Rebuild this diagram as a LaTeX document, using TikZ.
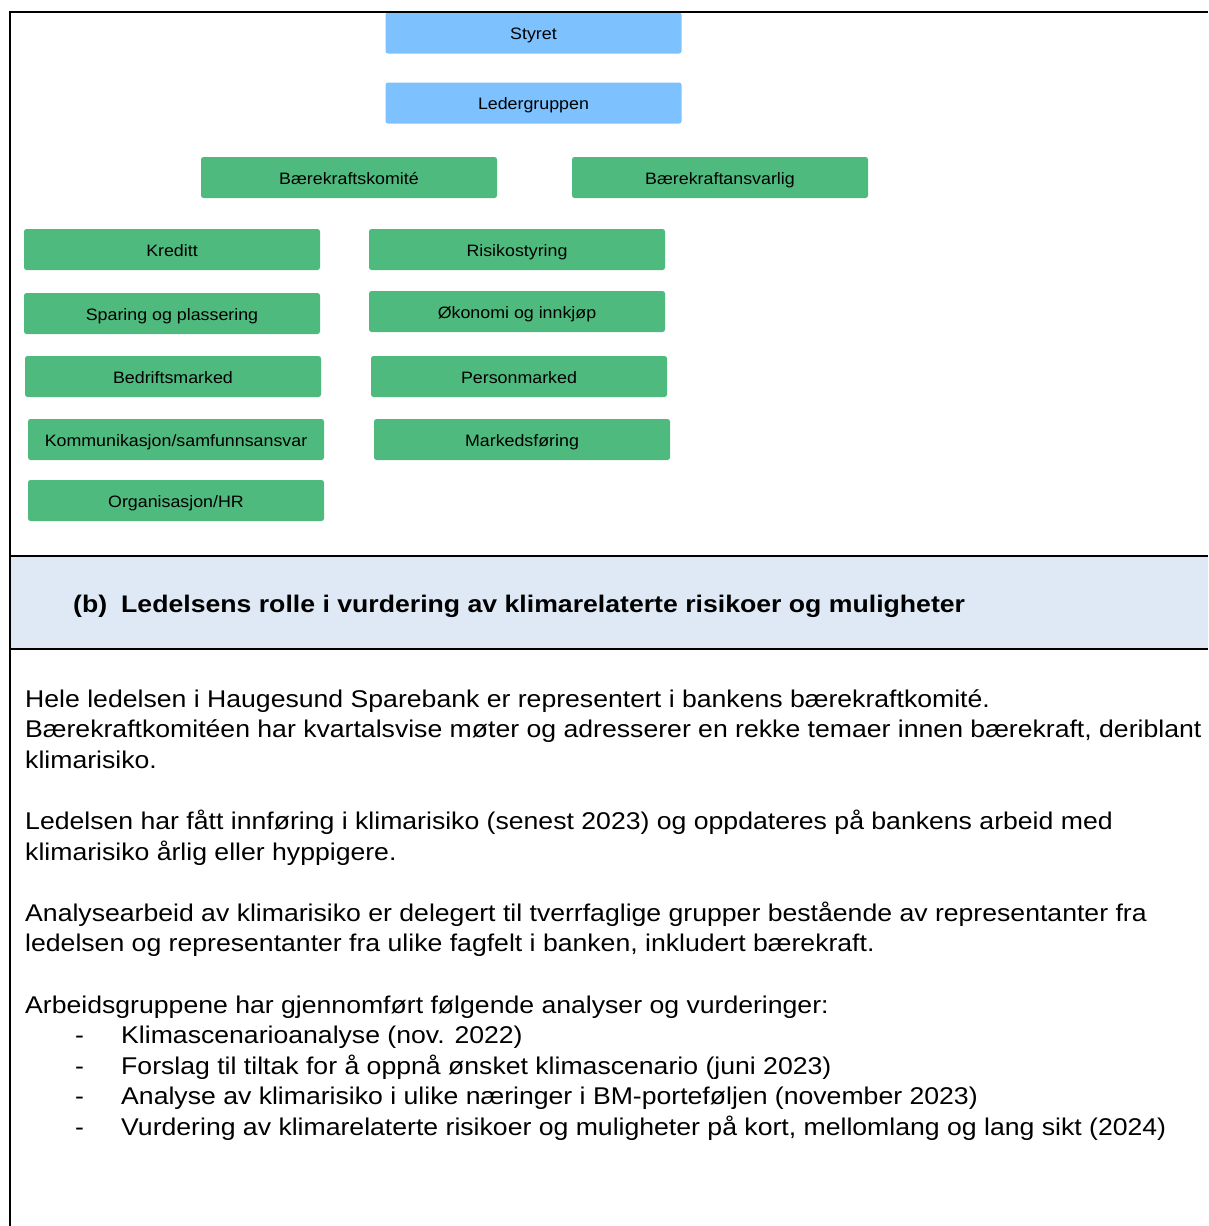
\documentclass[tikz,border=0pt]{standalone}
\usepackage{fontspec}
\setmainfont{Liberation Sans}
\newfontfamily\bodyfont[FakeStretch=1.10]{Liberation Sans}
\newfontfamily\headfont[FakeStretch=1.11]{Liberation Sans}
\newfontfamily\boxfont[FakeStretch=1.08]{Liberation Sans}
\definecolor{boxblue}{RGB}{125,193,255}
\definecolor{boxgreen}{RGB}{79,186,126}
\definecolor{headfill}{RGB}{222,233,245}
\tikzset{
  orgbox/.style={rectangle, rounded corners=2.5pt, inner sep=0pt, minimum width=296pt, minimum height=41pt, text height=15pt, text depth=2pt, font=\boxfont\fontsize{16.5}{19}\selectfont, text=black},
  bluebox/.style={orgbox, fill=boxblue},
  greenbox/.style={orgbox, fill=boxgreen},
  bodytext/.style={anchor=base west, inner sep=0pt, font=\bodyfont\fontsize{24.2}{28}\selectfont},
  headtext/.style={anchor=base west, inner sep=0pt, font=\headfont\fontsize{24}{28}\selectfont\bfseries},
  rule/.style={line width=2pt, black}
}
\begin{document}
\begin{tikzpicture}[x=1pt,y=-1pt]
\useasboundingbox (0,0) rectangle (1208,1226);
% header band
\fill[headfill] (10,556) rectangle (1208,649);
% org chart boxes
\node[bluebox] (styret) at (533.5,33) {Styret};
\node[bluebox] (leder) at (533.5,103) {Ledergruppen};
\node[greenbox] (komite) at (349,177.5) {Bærekraftskomité};
\node[greenbox] (ansvarlig) at (720,177.5) {Bærekraftansvarlig};
\node[greenbox] (kreditt) at (172,249.5) {Kreditt};
\node[greenbox] (risiko) at (517,249.5) {Risikostyring};
\node[greenbox] (sparing) at (172,313.5) {Sparing og plassering};
\node[greenbox] (okonomi) at (517,311.5) {Økonomi og innkjøp};
\node[greenbox] (bedrift) at (173,376.5) {Bedriftsmarked};
\node[greenbox] (person) at (519,376.5) {Personmarked};
\node[greenbox] (kommunikasjon) at (176,439.5) {Kommunikasjon/samfunnsansvar};
\node[greenbox] (markedsforing) at (522,439.5) {Markedsføring};
\node[greenbox] (org) at (176,500.5) {Organisasjon/HR};
% table rules
\draw[rule] (10,1226) -- (10,12) -- (1208,12);
\draw[rule] (10,556) -- (1208,556);
\draw[rule] (10,649) -- (1208,649);
% header
\node[headtext] (hb) at (73,612) {(b)};
\node[headtext] (ht) at (121,612) {Ledelsens rolle i vurdering av klimarelaterte risikoer og muligheter};
% body
\node[bodytext] (l1) at (25,707) {Hele ledelsen i Haugesund Sparebank er representert i bankens bærekraftkomité.};
\node[bodytext] (l2) at (25,737.6) {Bærekraftkomitéen har kvartalsvise møter og adresserer en rekke temaer innen bærekraft, deriblant};
\node[bodytext] (l3) at (25,768.2) {klimarisiko.};
\node[bodytext] (l4) at (25,829.4) {Ledelsen har fått innføring i klimarisiko (senest 2023) og oppdateres på bankens arbeid med};
\node[bodytext] (l5) at (25,860) {klimarisiko årlig eller hyppigere.};
\node[bodytext] (l6) at (25,921.2) {Analysearbeid av klimarisiko er delegert til tverrfaglige grupper bestående av representanter fra};
\node[bodytext] (l7) at (25,951.8) {ledelsen og representanter fra ulike fagfelt i banken, inkludert bærekraft.};
\node[bodytext] (l8) at (25,1013) {Arbeidsgruppene har gjennomført følgende analyser og vurderinger:};
\node[bodytext] (d1) at (75,1043.6) {-};
\node[bodytext] (i1) at (121,1043.6) {Klimascenarioanalyse (nov. 2022)};
\node[bodytext] (d2) at (75,1074.2) {-};
\node[bodytext] (i2) at (121,1074.2) {Forslag til tiltak for å oppnå ønsket klimascenario (juni 2023)};
\node[bodytext] (d3) at (75,1104.8) {-};
\node[bodytext] (i3) at (121,1104.8) {Analyse av klimarisiko i ulike næringer i BM-porteføljen (november 2023)};
\node[bodytext] (d4) at (75,1135.4) {-};
\node[bodytext] (i4) at (121,1135.4) {Vurdering av klimarelaterte risikoer og muligheter på kort, mellomlang og lang sikt (2024)};
\end{tikzpicture}
\end{document}
